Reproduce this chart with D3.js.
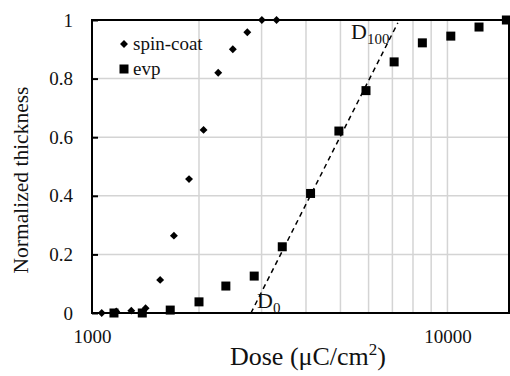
<!DOCTYPE html>
<html>
<head>
<meta charset="utf-8">
<script src="https://cdn.jsdelivr.net/npm/d3@7"></script>
<style>
  body { margin: 0; background: #fff; }
</style>
</head>
<body>
<div id="chart-area"></div>
<script>
// Data
let spinDose  = [1065, 1170, 1290, 1415, 1555, 1700, 1875, 2060, 2265, 2490, 2735, 3005, 3305];
let spinThick = [0, 0.005, 0.008, 0.016, 0.113, 0.264, 0.457, 0.625, 0.82, 0.9, 0.958, 1, 1];

let evpDose  = [1153, 1385, 1660, 2000, 2380, 2860, 3430, 4120, 4950, 5900, 7080, 8500, 10220, 12270, 14650];
let evpThick = [0, 0, 0.01, 0.038, 0.092, 0.126, 0.226, 0.408, 0.621, 0.759, 0.857, 0.922, 0.945, 0.976, 1];

// dashed fit line, D0 -> D100
let fitDose  = [2800, 7250];
let fitThick = [0, 0.99];

let yTicks = [0, 0.2, 0.4, 0.6, 0.8, 1];
let xTickLabels = [1000, 10000];
let xGrid = [2000, 3000, 4000, 5000, 6000, 7000, 8000, 9000, 10000];

const FONT = "Liberation Serif";

let margin = {top: 20, right: 1, bottom: 63, left: 92};
let width = 510 - margin.left - margin.right,
    height = 376 - margin.top - margin.bottom;

let svg = d3.select("#chart-area").append("svg")
    .attr("width", 510)
    .attr("height", 376)
    .attr("font-family", FONT)
  .append("g")
    .attr("transform", "translate(" + margin.left + "," + margin.top + ")");

let x = d3.scaleLog()
    .domain([1000, 14900])
    .range([0, width]);

let y = d3.scaleLinear()
    .domain([0, 1])
    .range([height, 0]);

// gridlines
svg.selectAll(".xgrid")
    .data(xGrid)
    .enter().append("line")
    .attr("x1", d => x(d)).attr("x2", d => x(d))
    .attr("y1", 0).attr("y2", height)
    .attr("stroke", "#d4d4d4").attr("stroke-width", 1.5);

svg.selectAll(".ygrid")
    .data(yTicks.slice(1, -1))
    .enter().append("line")
    .attr("x1", 0).attr("x2", width)
    .attr("y1", d => y(d)).attr("y2", d => y(d))
    .attr("stroke", "#d4d4d4").attr("stroke-width", 1.5);

// axes
let yAxis = svg.append("g")
    .call(d3.axisLeft(y).tickValues(yTicks).tickSize(-6).tickPadding(19).tickFormat(d3.format("")));
let xAxis = svg.append("g")
    .attr("transform", `translate(0,${height})`)
    .call(d3.axisBottom(x).tickValues(xTickLabels).tickSize(0).tickPadding(17).tickFormat(d3.format("")));

[yAxis, xAxis].forEach(a => {
    a.attr("font-family", FONT);
    a.select(".domain").remove();
    a.selectAll("line").attr("stroke", "#000").attr("stroke-width", 2);
    a.selectAll("text").attr("font-size", 19).attr("fill", "#111");
});

// frame
svg.append("rect")
    .attr("x", 0).attr("y", 0)
    .attr("width", width).attr("height", height)
    .attr("fill", "none").attr("stroke", "#000").attr("stroke-width", 2);

// fit line
svg.append("line")
    .attr("x1", x(fitDose[0])).attr("y1", y(fitThick[0]))
    .attr("x2", x(fitDose[1])).attr("y2", y(fitThick[1]))
    .attr("stroke", "#000").attr("stroke-width", 1.5)
    .attr("stroke-dasharray", "5,4");

// spin-coat diamonds
let diamond = d3.symbol().type(d3.symbolDiamond2).size(40);
svg.selectAll(".spin")
    .data(spinDose.map((d, i) => [d, spinThick[i]]))
    .enter().append("path")
    .attr("d", diamond)
    .attr("transform", d => `translate(${x(d[0])},${y(d[1])})`)
    .attr("fill", "#000");

// evp squares
svg.selectAll(".evp")
    .data(evpDose.map((d, i) => [d, evpThick[i]]))
    .enter().append("rect")
    .attr("x", d => x(d[0]) - 4.5).attr("y", d => y(d[1]) - 4.5)
    .attr("width", 9).attr("height", 9)
    .attr("fill", "#000");

// D labels
let d100 = svg.append("text").attr("x", 259).attr("y", 19).attr("font-size", 22).attr("fill", "#111");
d100.append("tspan").text("D");
d100.append("tspan").attr("font-size", 15).attr("dy", 5).text("100");

let d0 = svg.append("text").attr("x", 165).attr("y", 288).attr("font-size", 22).attr("fill", "#111");
d0.append("tspan").text("D");
d0.append("tspan").attr("font-size", 15).attr("dy", 5).text("0");

// legend
let legend = svg.append("g").attr("transform", "translate(32,24)");
legend.append("path").attr("d", diamond).attr("fill", "#000");
legend.append("text").attr("x", 9).attr("y", 6).attr("font-size", 19).attr("fill", "#111").text("spin-coat");
legend.append("rect").attr("x", -4.5).attr("y", 20.5).attr("width", 9).attr("height", 9).attr("fill", "#000");
legend.append("text").attr("x", 9).attr("y", 31).attr("font-size", 19).attr("fill", "#111").text("evp");

// axis titles
let xt = svg.append("text")
    .attr("x", 216).attr("y", height + 52)
    .attr("text-anchor", "middle").attr("font-size", 26).attr("fill", "#111");
xt.append("tspan").text("Dose (\u03bcC/cm");
xt.append("tspan").attr("font-size", 17).attr("dy", -10).text("2");
xt.append("tspan").attr("dy", 10).text(")");

svg.append("text")
    .attr("transform", `translate(-64,160) rotate(-90)`)
    .attr("text-anchor", "middle").attr("font-size", 21.5).attr("fill", "#111")
    .text("Normalized thickness");
</script>
</body>
</html>
